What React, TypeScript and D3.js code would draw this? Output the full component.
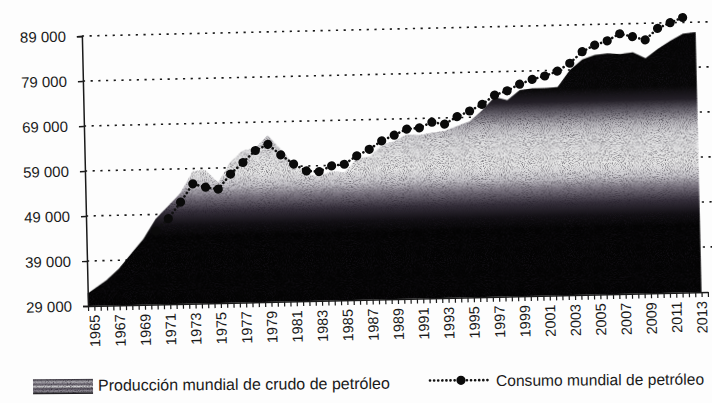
import React, { useEffect, useRef } from "react";
import * as d3 from "d3";

// categories (years on the x axis)
const years = [
  1965, 1966, 1967, 1968, 1969, 1970, 1971, 1972, 1973, 1974,
  1975, 1976, 1977, 1978, 1979, 1980, 1981, 1982, 1983, 1984,
  1985, 1986, 1987, 1988, 1989, 1990, 1991, 1992, 1993, 1994,
  1995, 1996, 1997, 1998, 1999, 2000, 2001, 2002, 2003, 2004,
  2005, 2006, 2007, 2008, 2009, 2010, 2011, 2012, 2013,
];

// Producción mundial de crudo de petróleo (1965-2013)
const production = [
  31800, 34600, 37100, 40400, 43600, 48000, 50800, 53600, 58400, 58600,
  55800, 60300, 62700, 63300, 66000, 62900, 59500, 57300, 56600, 57700,
  57400, 60400, 60800, 63200, 64100, 65500, 65300, 65800, 66100, 67100,
  68100, 70500, 73400, 72600, 74800, 75100, 75100, 75300, 79000, 81300,
  82200, 82500, 82300, 82600, 81200, 83300, 85000, 86500, 86800,
];

// Consumo mundial de petróleo (1970-2012)
const consumptionYears = years.slice(5, 48);
const consumption = [
  45300, 48000, 51600, 55600, 54800, 54300, 57600, 60100, 62700, 64000,
  61600, 59500, 57900, 57700, 58900, 59200, 61000, 62400, 64200, 65400,
  66700, 66900, 68100, 67600, 69200, 70400, 71800, 73800, 74700, 76100,
  77100, 77800, 78800, 80500, 83000, 84400, 85300, 86800, 86100, 85300,
  87800, 89000, 90100,
];

const yTicks = [29000, 39000, 49000, 59000, 69000, 79000, 89000];
const xLabelYears = years.filter((_, i) => i % 2 === 0);

// gray bands of the area fill, by value
const fillStops: [number, string][] = [
  [89000, "#030303"],
  [75000, "#060606"],
  [72000, "#242028"],
  [69500, "#6a6670"],
  [67000, "#b4b2b8"],
  [64000, "#dedee0"],
  [58000, "#e8e8e8"],
  [55000, "#c8c6cc"],
  [52500, "#7a7480"],
  [49500, "#36303c"],
  [46500, "#100e12"],
  [44000, "#030303"],
  [29000, "#030303"],
];

const W = 712, H = 403;
const left = 88, bottom = 306, top = 36;
const font = "'Liberation Sans', Arial, sans-serif";

const App = () => {
  const ref = useRef<SVGSVGElement>(null);

  useEffect(() => {
    const svg = d3.select(ref.current);
    svg.selectAll("*").remove();

    const x = d3.scaleLinear().domain([1964.5, 2013.5]).range([left, 708]);
    const y = d3.scaleLinear().domain([29000, 89000]).range([bottom, top]);
    const fmt = d3.formatLocale({ decimal: ",", thousands: " ", grouping: [3], currency: ["", ""] }).format(",d");

    const defs = svg.append("defs");
    const grad = defs.append("linearGradient")
      .attr("id", "areaGrad")
      .attr("gradientUnits", "userSpaceOnUse")
      .attr("x1", 0).attr("x2", 0)
      .attr("y1", y(89000)).attr("y2", y(29000));
    fillStops.forEach(([v, c]) => {
      grad.append("stop").attr("offset", (y(v) - y(89000)) / (y(29000) - y(89000))).attr("stop-color", c);
    });

    const lg = defs.append("linearGradient").attr("id", "legGrad").attr("x1", 0).attr("x2", 0).attr("y1", 0).attr("y2", 1);
    [[0, "#2a2630"], [0.2, "#b8b6bc"], [0.35, "#5a5460"], [0.5, "#d0d0d2"], [0.65, "#4a4450"], [0.8, "#9a96a0"], [1, "#050505"]]
      .forEach(([o, c]) => lg.append("stop").attr("offset", o).attr("stop-color", c));

    // scan grain
    const f = defs.append("filter").attr("id", "grain").attr("color-interpolation-filters", "sRGB");
    f.append("feTurbulence").attr("type", "fractalNoise").attr("baseFrequency", 0.95).attr("numOctaves", 2).attr("seed", 7).attr("result", "noise");
    f.append("feColorMatrix").attr("in", "noise").attr("type", "matrix")
      .attr("values", "0 0 0 0 0.12  0 0 0 0 0.1  0 0 0 0 0.14  1.8 0 0 0 -0.85").attr("result", "specks");
    f.append("feComposite").attr("in", "specks").attr("in2", "SourceGraphic").attr("operator", "in").attr("result", "clipped");
    const m = f.append("feMerge");
    m.append("feMergeNode").attr("in", "SourceGraphic");
    m.append("feMergeNode").attr("in", "clipped");

    // the scanned page is slightly tilted
    const g = svg.append("g").attr("transform", `rotate(-1.3, ${left}, ${bottom})`);

    // dotted gridlines
    g.append("g").selectAll("line")
      .data(yTicks.slice(1))
      .enter().append("line")
      .attr("x1", left).attr("x2", 716)
      .attr("y1", d => y(d)).attr("y2", d => y(d))
      .attr("stroke", "#1a1a1a").attr("stroke-width", 1.6)
      .attr("stroke-dasharray", "2.2,5.5");

    // production area
    const prodData = years.map((yr, i) => ({ yr, v: production[i] }));
    const area = d3.area<{ yr: number; v: number }>()
      .x((d, i) => (i === 0 ? x(d.yr - 0.5) : x(d.yr)))
      .y0(y(29000))
      .y1(d => y(d.v));
    g.append("path")
      .datum(prodData)
      .attr("d", area)
      .attr("fill", "url(#areaGrad)")
      .attr("filter", "url(#grain)");

    // y axis
    const yAxis = g.append("g")
      .attr("transform", `translate(${left},0)`)
      .call(d3.axisLeft(y).tickValues(yTicks).tickSize(5).tickPadding(11).tickFormat(d => fmt(d as number)));
    yAxis.select(".domain").attr("stroke", "#1a1a1a").attr("stroke-width", 1.5);
    yAxis.selectAll(".tick line").attr("stroke", "#1a1a1a").attr("stroke-width", 1.5);
    yAxis.selectAll(".tick text")
      .attr("font-family", font)
      .attr("font-size", 15).attr("fill", "#1a1a1a");

    // x axis ticks
    const xAxis = g.append("g")
      .attr("transform", `translate(0,${bottom})`)
      .call(d3.axisBottom(x).tickValues(d3.range(1964.5, 2013.51, 0.5)).tickSize(5).tickSizeOuter(0).tickFormat(() => ""));
    xAxis.select(".domain").attr("stroke", "#1a1a1a").attr("stroke-width", 1.5);
    xAxis.selectAll(".tick line").attr("stroke", "#1a1a1a").attr("stroke-width", 1.2);

    g.append("g").selectAll("text")
      .data(xLabelYears)
      .enter().append("text")
      .attr("transform", d => `translate(${x(d)},${bottom + 9}) rotate(-90)`)
      .attr("text-anchor", "end")
      .attr("dy", "0.35em")
      .attr("font-family", font)
      .attr("font-size", 14.5)
      .attr("fill", "#1a1a1a")
      .text(d => d);

    // consumption line
    const consData = consumptionYears.map((yr, i) => ({ yr, v: consumption[i] }));
    const line = d3.line<{ yr: number; v: number }>().x(d => x(d.yr)).y(d => y(d.v));
    g.append("path")
      .datum(consData)
      .attr("d", line)
      .attr("fill", "none")
      .attr("stroke", "#111")
      .attr("stroke-width", 2.6)
      .attr("stroke-linecap", "round")
      .attr("stroke-dasharray", "0.1,4");
    g.append("g").selectAll("circle")
      .data(consData)
      .enter().append("circle")
      .attr("cx", d => x(d.yr)).attr("cy", d => y(d.v))
      .attr("r", 4.6)
      .attr("fill", "#0a0a0a");

    // legend
    const leg = svg.append("g").attr("transform", "rotate(-0.4, 360, 384)");
    leg.append("rect").attr("x", 33).attr("y", 377).attr("width", 60).attr("height", 15)
      .attr("fill", "url(#legGrad)").attr("filter", "url(#grain)");
    leg.append("text").attr("x", 98).attr("y", 389)
      .attr("font-family", font).attr("font-size", 16).attr("fill", "#1a1a1a")
      .text("Producción mundial de crudo de petróleo");
    leg.append("line").attr("x1", 430).attr("x2", 490).attr("y1", 381).attr("y2", 381)
      .attr("stroke", "#111").attr("stroke-width", 2.6).attr("stroke-linecap", "round").attr("stroke-dasharray", "0.1,4");
    leg.append("circle").attr("cx", 461).attr("cy", 381).attr("r", 4.6).attr("fill", "#0a0a0a");
    leg.append("text").attr("x", 496).attr("y", 387)
      .attr("font-family", font).attr("font-size", 15.6).attr("fill", "#1a1a1a")
      .text("Consumo mundial de petróleo");
  }, []);

  return (
    <svg ref={ref} width={W} height={H}
      style={{ position: "absolute", left: 0, top: 0, background: "#fdfdfd" }}></svg>
  );
};

export default App;
